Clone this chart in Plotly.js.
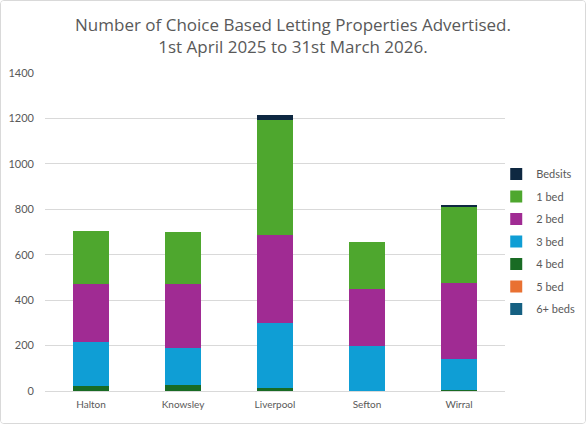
<!DOCTYPE html>
<html>
<head>
<meta charset="utf-8">
<script src="https://cdn.plot.ly/plotly-3.0.1.min.js"></script>
<style>
html,body{margin:0;padding:0;background:#fff;}
#wrap{position:absolute;left:0;top:0;width:584px;height:422px;border:1px solid #d9d9d9;border-radius:4px;overflow:hidden;}
#chart{width:584px;height:422px;}
</style>
</head>
<body>
<div id="wrap"><div id="chart"></div></div>
<script>
const categories = ["Halton", "Knowsley", "Liverpool", "Sefton", "Wirral"];
const beds6plus = [0, 0, 0, 0, 0];
const bed5 = [0, 0, 0, 0, 0];
const bed4 = [23, 26, 12, 2, 3];
const bed3 = [192, 164, 288, 194, 137];
const bed2 = [258, 282, 387, 254, 334];
const bed1 = [230, 228, 507, 205, 338];
const bedsits = [0, 0, 22, 3, 7];

const seriesNames = ["6+ beds", "5 bed", "4 bed", "3 bed", "2 bed", "1 bed", "Bedsits"];
const seriesValues = [beds6plus, bed5, bed4, bed3, bed2, bed1, bedsits];
const seriesColors = ["#156082", "#E97132", "#196B24", "#0F9ED5", "#A02B93", "#4EA72E", "#0E2841"];

const traces = seriesNames.map((n, i) => ({
  type: "bar",
  name: n,
  legendgroup: n,
  legendrank: seriesNames.length - i,
  x: categories,
  y: seriesValues[i],
  marker: {color: seriesColors[i], line: {width: 0}},
  hoverinfo: "x+y+name"
}));

const layout = {
  width: 584, height: 422,
  barmode: "stack",
  bargap: 0.6,
  paper_bgcolor: "#ffffff",
  plot_bgcolor: "#ffffff",
  margin: {l: 44, r: 80, t: 72, b: 32, autoexpand: false},
  font: {family: "Lato, 'Open Sans', sans-serif", color: "#595959", size: 11},
  title: {
    text: "Number of Choice Based Letting Properties Advertised.<br>1st April 2025 to 31st March 2026.",
    font: {family: "'Open Sans', Lato, sans-serif", size: 17, color: "#595959"},
    x: 0.5, xanchor: "center",
    yref: "container", y: 0.928, yanchor: "middle"
  },
  xaxis: {
    type: "category",
    showline: false,
    ticks: "",
    ticklabelstandoff: 6,
    tickfont: {size: 10, color: "#595959"},
    showgrid: false
  },
  yaxis: {
    range: [0, 1400],
    tickvals: [0, 200, 400, 600, 800, 1000, 1200, 1400],
    showgrid: true,
    gridcolor: "#d9d9d9",
    gridwidth: 1,
    zeroline: true,
    zerolinecolor: "#d9d9d9",
    zerolinewidth: 1,
    ticks: "",
    ticklabelstandoff: 10,
    tickfont: {size: 11, color: "#595959"}
  },
  legend: {
    xref: "container", x: 0.848, xanchor: "left",
    y: 0.47, yanchor: "middle",
    traceorder: "grouped",
    font: {size: 11, color: "#595959"},
    itemwidth: 30,
    tracegroupgap: 3.5,
    bgcolor: "rgba(0,0,0,0)"
  },
  showlegend: true
};

Plotly.newPlot("chart", traces, layout, {displayModeBar: false, staticPlot: true});
</script>
</body>
</html>
